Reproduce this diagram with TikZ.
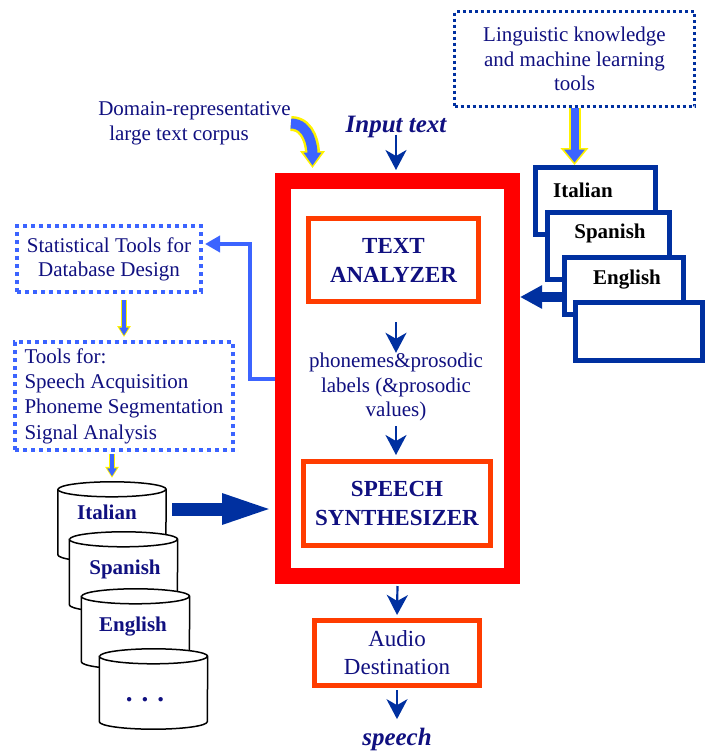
\documentclass[tikz,border=0pt]{standalone}
\usepackage{fontspec}
\setmainfont{Liberation Serif}
\usetikzlibrary{arrows.meta,positioning,calc}

\definecolor{navytext}{RGB}{16,16,128}
\definecolor{arrowblue}{RGB}{0,48,160}
\definecolor{lightblue}{RGB}{60,100,255}
\definecolor{blockred}{RGB}{255,60,0}
\definecolor{mainred}{RGB}{255,0,0}

% outline of a database drum around a named node
\newcommand{\dbdrum}[1]{%
  \filldraw[dbline] ([yshift=-7.5pt]#1.north west) -- ([yshift=7.5pt]#1.south west)
    arc[start angle=180, end angle=360, x radius=54pt, y radius=7.5pt]
    -- ([yshift=-7.5pt]#1.north east)
    arc[start angle=0, end angle=180, x radius=54pt, y radius=7.5pt] -- cycle;
  \draw[dbline] ([yshift=-7.5pt]#1.north west)
    arc[start angle=180, end angle=360, x radius=54pt, y radius=7.5pt];
}

\begin{document}
\begin{tikzpicture}[
    x=1pt, y=-1pt,
    every node/.style={text=navytext, font=\fontsize{21}{24.5}\selectfont},
    block/.style={draw=blockred, line width=5pt, fill=white, align=center, font=\fontsize{23}{29}\selectfont\bfseries},
    dotblock/.style={draw=lightblue, line width=4pt, dash pattern=on 4pt off 4pt, align=center},
    lingblock/.style={draw=arrowblue, line width=3pt, dash pattern=on 3pt off 3pt, align=center},
    langblock/.style={draw=arrowblue, line width=5pt, fill=white},
    langlabel/.style={text=black, font=\fontsize{21}{25}\selectfont\bfseries},
    dbblock/.style={minimum width=108pt, minimum height=80pt, inner sep=0pt},
    dbline/.style={draw=black, line width=1.5pt, fill=white},
    dblabel/.style={font=\fontsize{21}{25}\selectfont\bfseries},
    arrow/.style={-{Stealth[length=20pt, width=21pt, inset=6pt]}, arrowblue, line width=2.2pt},
    bigarrow/.style={-{Triangle[length=53pt, width=27pt]}, arrowblue, line width=13pt},
    stackarrow/.style={-{Triangle[length=22pt, width=22pt]}, arrowblue, line width=10pt},
    bentarrow/.style={-{Triangle[length=15pt, width=16pt]}, lightblue, line width=4pt},
    yarrowbig/.style={draw=lightblue, line width=8pt, -{Triangle[length=13pt, width=20pt]}, shorten >=2.5pt,
        preaction={draw=yellow, line width=12pt, -{Triangle[length=17pt, width=27pt]}, shorten >=0pt}},
    yarrowsmall/.style={draw=lightblue, line width=4pt, -{Triangle[length=8pt, width=9pt]}, shorten >=1.5pt,
        preaction={draw=yellow, line width=6.5pt, -{Triangle[length=11pt, width=13pt]}, shorten >=0pt}},
    ycurve/.style={draw=lightblue, line width=10pt, -{Triangle[length=13pt, width=17pt]}, shorten >=2.5pt,
        preaction={draw=yellow, line width=15pt, -{Triangle[length=17pt, width=24pt]}, shorten >=0pt}}
]
\useasboundingbox (0,0) rectangle (712,753);

% central synthesis engine
\node[draw=mainred, line width=16pt, fill=white, minimum width=229pt, minimum height=395pt] (main) at (397.5,378.5) {};
\node[block, minimum width=170pt, minimum height=83pt] (ta) at (393.5,260) {TEXT\\ANALYZER};
\node[inner sep=0pt, align=center] (phon) at (396,387) {phonemes\&prosodic\\labels (\&prosodic\\values)};
\node[block, minimum width=187pt, minimum height=84pt] (ss) at (397,503.5) {SPEECH\\SYNTHESIZER};
\node[block, font=\fontsize{23}{28}\selectfont, minimum width=165pt, minimum height=65pt] (audio) at (397,653) {Audio\\Destination};
\node[font=\fontsize{25}{30}\selectfont\bfseries\itshape] (input) at (396,127) {Input text};
\node[font=\fontsize{25}{30}\selectfont\bfseries\itshape] (speech) at (397,739) {speech};

% text corpus and linguistic tools
\node[inner sep=0pt, align=left] (corpus) at (194.5,123.5) {Domain-representative\\\hspace*{11pt}large text corpus};
\node[lingblock, minimum width=240pt, minimum height=95pt] (ling) at (574.5,59) {Linguistic knowledge\\and machine learning\\tools};

% language modules
\node[langblock, minimum width=120pt, minimum height=67pt] (itbox) at (595.5,201) {};
\node[langlabel] (itlab) at (583,190) {Italian};
\node[langblock, minimum width=122pt, minimum height=67pt] (esbox) at (608.5,246) {};
\node[langlabel] (eslab) at (610,233) {Spanish};
\node[langblock, minimum width=119pt, minimum height=57pt] (enbox) at (624,286) {};
\node[langlabel] (enlab) at (627,280) {English};
\node[langblock, minimum width=127pt, minimum height=58pt] (morebox) at (639,331.5) {};

% database tools
\node[dotblock, minimum width=184pt, minimum height=66pt, font=\fontsize{21}{24}\selectfont] (stat) at (109,259) {Statistical Tools for\\Database Design};
\node[dotblock, align=left, minimum width=218pt, minimum height=108pt, font=\fontsize{21}{25.3}\selectfont] (tools) at (124,396) {Tools for:\\Speech Acquisition\\Phoneme Segmentation\\Signal Analysis};

% speech databases
\node[dbblock] (itdb) at (112,522) {};
\dbdrum{itdb}
\node[dblabel] (itdbl) at (107,512) {Italian};
\node[dbblock] (esdb) at (123.5,572) {};
\dbdrum{esdb}
\node[dblabel] (esdbl) at (125,569) {Spanish};
\node[dbblock] (endb) at (135.5,629) {};
\dbdrum{endb}
\node[dblabel] (endbl) at (133,627) {English};
\node[dbblock] (moredb) at (153.5,689) {};
\dbdrum{moredb}
\node[dblabel, font=\fontsize{27}{30}\selectfont\bfseries] (moredbl) at (145,700) {. . .};

% connections
\draw[arrow, shorten <=2pt, shorten >=3pt] (input.base) -- (input.base |- main.north);
\draw[arrow, shorten <=18pt] (phon.north |- ta.south) -- (phon.north);
\draw[arrow, shorten <=5pt, shorten >=4pt] (phon.south) -- (phon.south |- ss.north);
\draw[arrow, shorten <=2pt, shorten >=3pt] (main.south) -- (audio.north);
\draw[arrow, shorten <=2pt, shorten >=5pt] (audio.south) -- (speech.north);
\draw[ycurve] (corpus.east) to[out=0, in=90] ([xshift=-85pt, yshift=5pt]main.north);
\draw[yarrowbig] (ling.south) -- (ling.south |- itbox.north);
\draw[stackarrow] ([yshift=-11pt]enbox.west) -- ([yshift=-11pt]enbox.west -| main.east);
\draw[bentarrow] (main.west) -- ++(-25,0) |- ([xshift=2pt, yshift=15pt]stat.east);
\draw[yarrowsmall] ([yshift=-6pt]tools.north |- stat.south) -- ([yshift=3pt]tools.north);
\draw[yarrowsmall] ([yshift=-2pt]itdb.north |- tools.south) -- ([yshift=4pt]itdb.north);
\draw[bigarrow, shorten <=6pt] ([yshift=13pt]itdb.east) -- ([yshift=13pt]itdb.east -| main.west);
\end{tikzpicture}
\end{document}
